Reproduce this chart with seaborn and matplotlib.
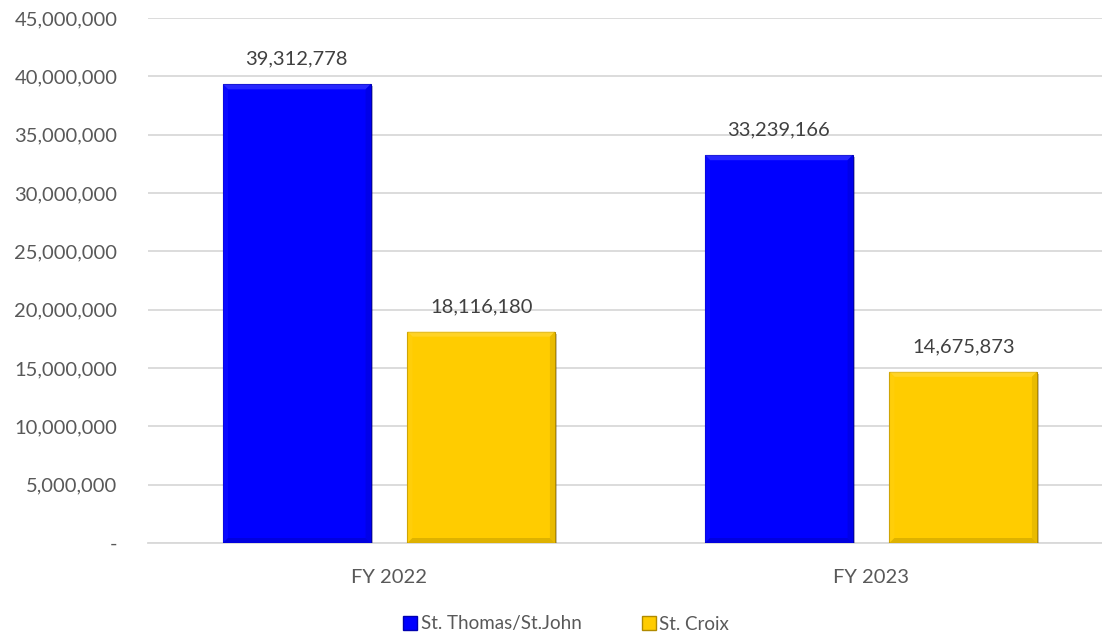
import matplotlib
matplotlib.use("Agg")
import matplotlib.pyplot as plt
import matplotlib.patches as mpatches
import matplotlib.patheffects as pe
from matplotlib.colors import to_rgb
from matplotlib.ticker import FuncFormatter
import pandas as pd
import seaborn as sns

# Revenue by district and fiscal year
years = ["FY 2022", "FY 2023"]
districts = ["St. Thomas/St.John", "St. Croix"]
st_thomas_values = [39312778, 33239166]
st_croix_values = [18116180, 14675873]
district_colors = ["#0000FF", "#FFCC00"]
edge_colors = ["#0000B0", "#B08A00"]

rows = []
for i, yr in enumerate(years):
    rows.append({"year": yr, "district": districts[0], "value": st_thomas_values[i]})
    rows.append({"year": yr, "district": districts[1], "value": st_croix_values[i]})
df = pd.DataFrame(rows)

sns.set_theme(style="white")
plt.rcParams["font.family"] = ["Lato", "DejaVu Sans"]
text_gray = "#595959"
grid_gray = "#D9D9D9"

fig = plt.figure(figsize=(11.02, 6.41), dpi=100)
ax = fig.add_axes([148 / 1102, (641 - 543) / 641, 964 / 1102, 525 / 641])

sns.barplot(data=df, x="year", y="value", hue="district", order=years,
            hue_order=districts, palette=district_colors, width=0.765, gap=0.2,
            saturation=1, legend=False, ax=ax, zorder=3)

ax.set_xlim(-0.5, 1.5)
ax.set_ylim(0, 45000000)
ax.set_yticks(range(0, 45000001, 5000000))
ax.yaxis.set_major_formatter(FuncFormatter(lambda v, p: "-" if v == 0 else f"{int(v):,}"))
ax.grid(axis="y", color=grid_gray, linewidth=1.3, zorder=0)
ax.grid(axis="x", visible=False)
for side in ["top", "right", "left"]:
    ax.spines[side].set_visible(False)
ax.spines["bottom"].set_color(grid_gray)
ax.spines["bottom"].set_linewidth(1.3)
ax.set_xlabel("")
ax.set_ylabel("")
ax.tick_params(axis="y", length=0, pad=22, labelsize=14.5, labelcolor=text_gray)
ax.tick_params(axis="x", length=0, pad=19, labelsize=14.5, labelcolor=text_gray)


def shade(color, factor):
    r, g, b = to_rgb(color)
    if factor >= 0:
        return (r + (1 - r) * factor, g + (1 - g) * factor, b + (1 - b) * factor)
    return (r * (1 + factor), g * (1 + factor), b * (1 + factor))


# Bar edges, drop shadow and value labels
for container, ec in zip(ax.containers, edge_colors):
    for bar in container:
        bar.set_edgecolor(ec)
        bar.set_linewidth(0.8)
        bar.set_path_effects([
            pe.SimplePatchShadow(offset=(1.5, -1.5), alpha=0.3),
            pe.Normal(),
        ])
    ax.bar_label(container, labels=[f"{int(v):,}" for v in container.datavalues],
                 padding=12, fontsize=14.5, color="#404040")

# Bevelled faces along each bar's border
fig.canvas.draw()
bevel = 5
for container, fc in zip(ax.containers, district_colors):
    for bar in container:
        bb = bar.get_window_extent()
        x0, y0, x1, y1 = bb.x0, bb.y0, bb.x1, bb.y1
        faces = [
            ([(x0, y1), (x1, y1), (x1 - bevel, y1 - bevel), (x0 + bevel, y1 - bevel)], shade(fc, 0.22)),
            ([(x0, y0), (x0, y1), (x0 + bevel, y1 - bevel), (x0 + bevel, y0 + bevel)], shade(fc, 0.05)),
            ([(x1, y0), (x1, y1), (x1 - bevel, y1 - bevel), (x1 - bevel, y0 + bevel)], shade(fc, -0.12)),
            ([(x0, y0), (x1, y0), (x1 - bevel, y0 + bevel), (x0 + bevel, y0 + bevel)], shade(fc, -0.18)),
        ]
        for pts, col in faces:
            fig.patches.append(mpatches.Polygon(pts, closed=True, facecolor=col, edgecolor="none",
                                                transform=None, figure=fig, zorder=4, alpha=0.7))

handles = [mpatches.Patch(facecolor=c, edgecolor=e, label=d)
           for c, e, d in zip(district_colors, edge_colors, districts)]
leg = fig.legend(handles=handles, loc="center", bbox_to_anchor=(566 / 1102, 1 - 624 / 641),
                 ncol=2, frameon=False, fontsize=13.5, handlelength=0.75, handleheight=0.75,
                 handletextpad=0.2, columnspacing=3.2)
for t in leg.get_texts():
    t.set_color(text_gray)

fig.savefig("out.png", dpi=100)
